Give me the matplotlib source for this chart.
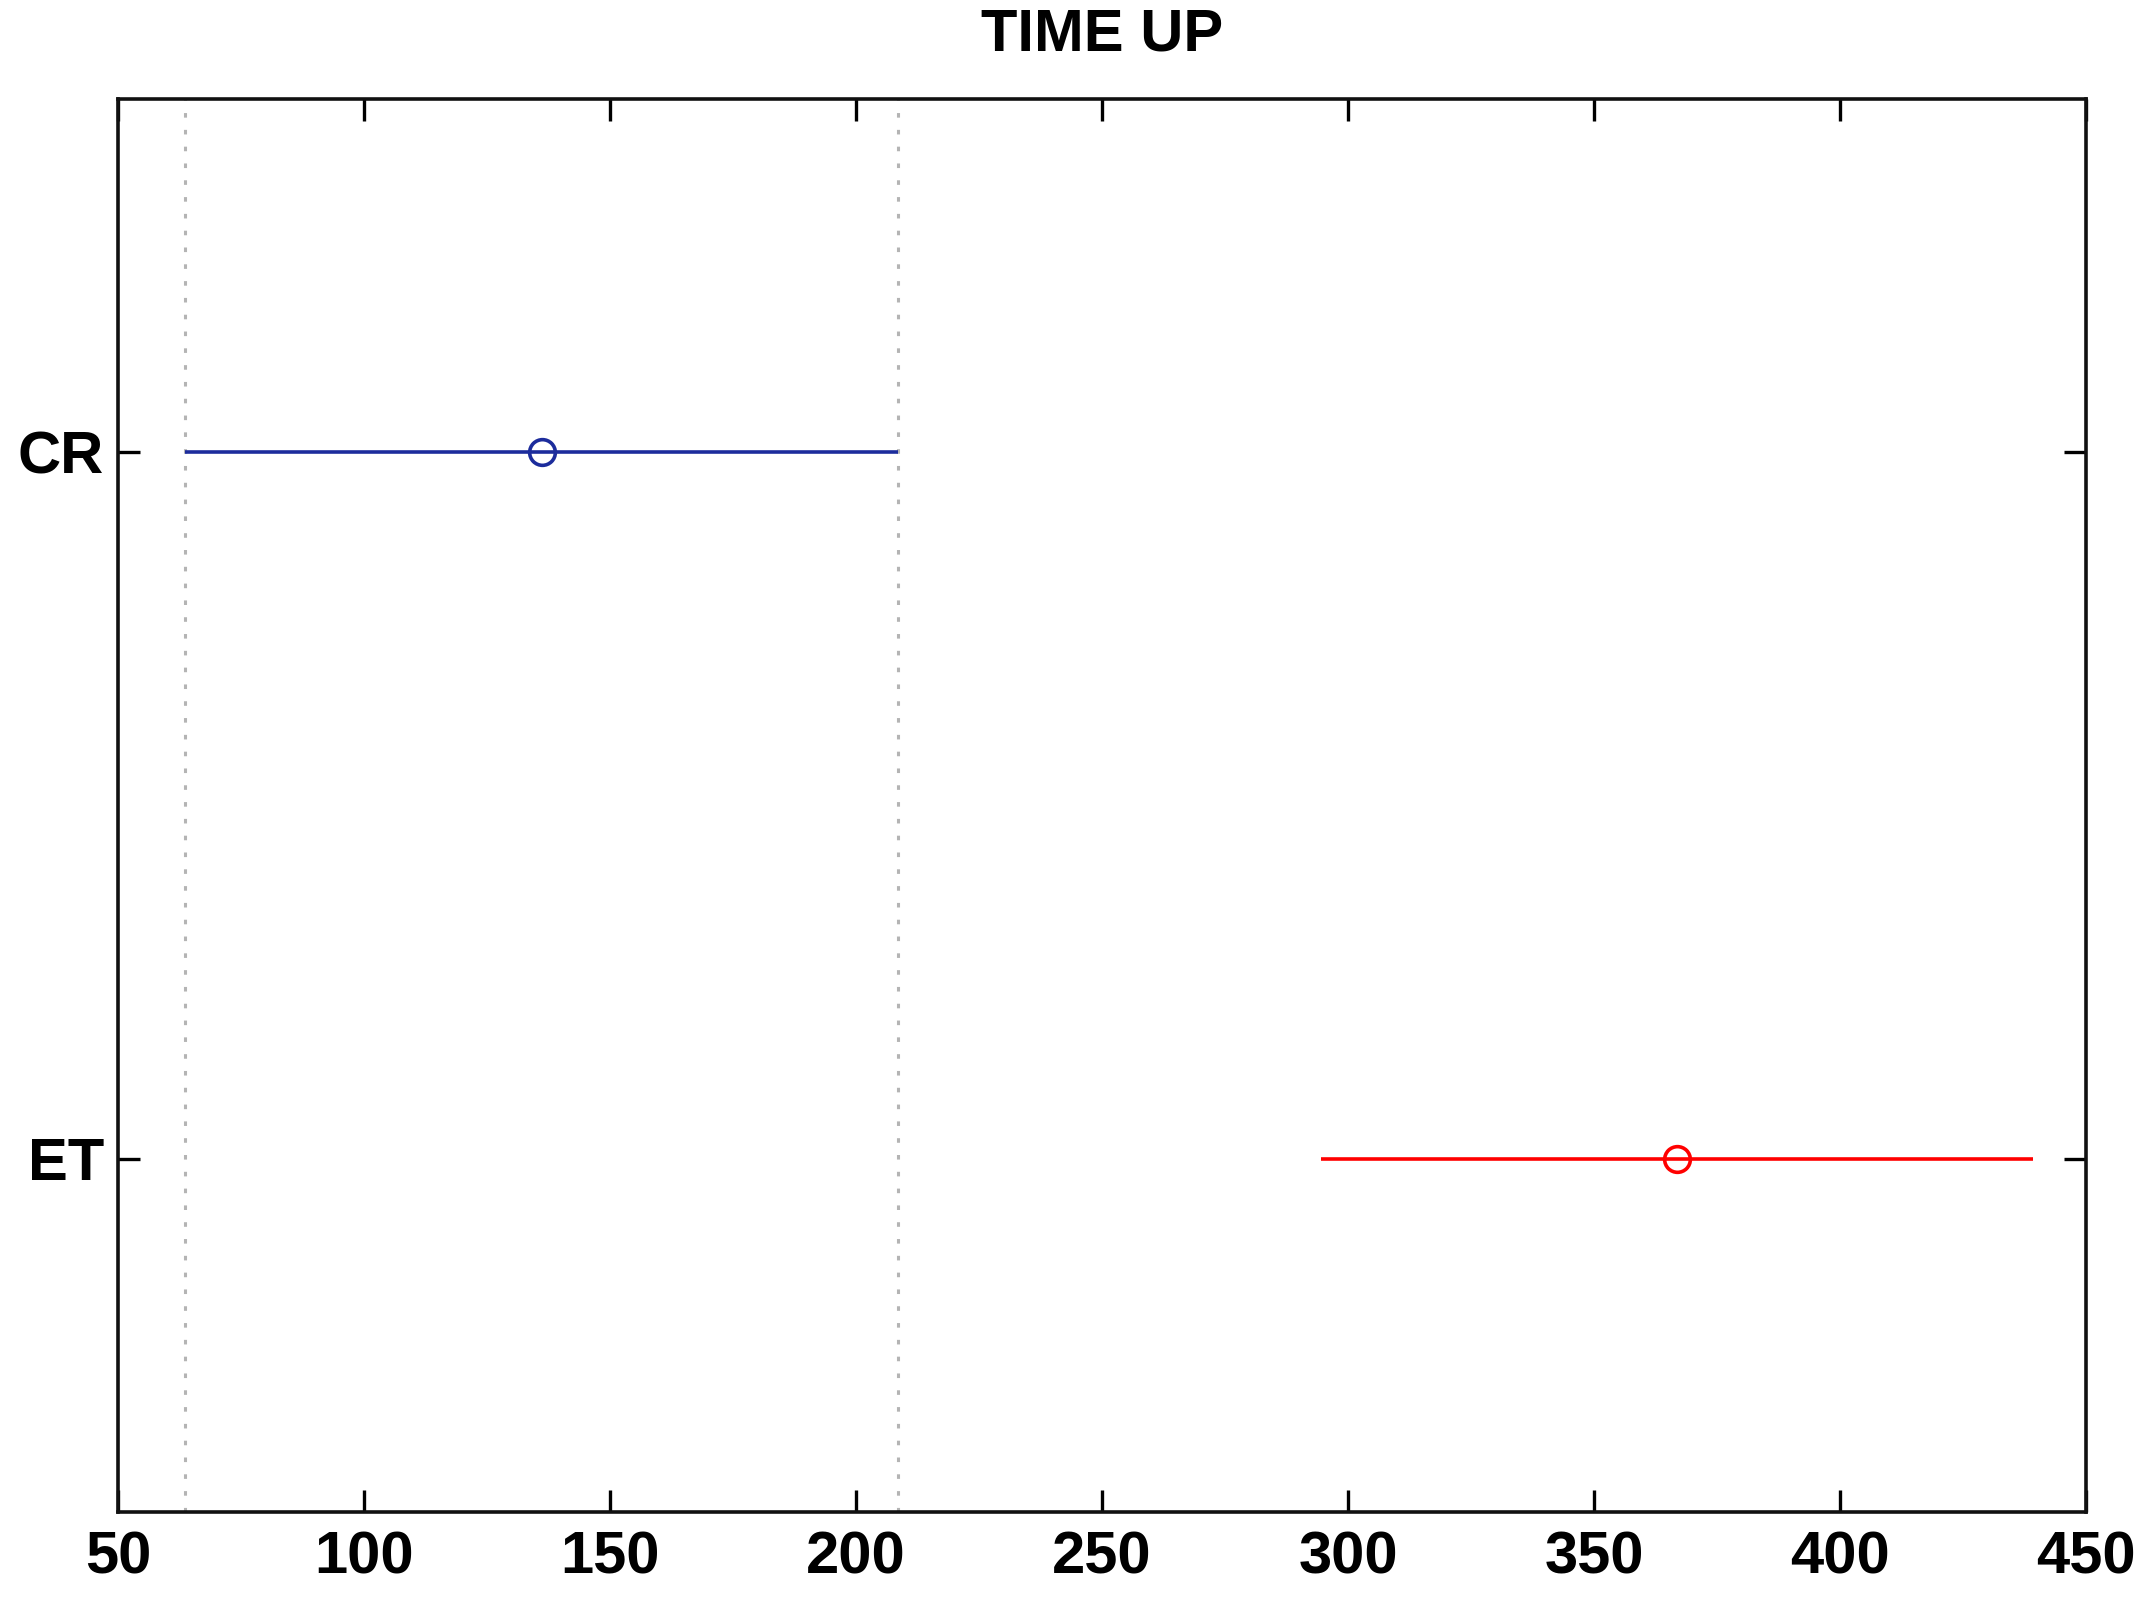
import matplotlib
matplotlib.use("Agg")
import matplotlib.pyplot as plt

# Data (multiple-comparison style intervals)
groups = ["ET", "CR"]
means = [366.9, 136.1]
lower = [294.6, 63.6]
upper = [439.3, 208.5]
colors = ["#ff0000", "#1c2c9c"]
xticks = [50, 100, 150, 200, 250, 300, 350, 400, 450]
title = "TIME UP"

plt.rcParams["font.family"] = ["Liberation Sans", "DejaVu Sans"]
plt.rcParams["font.weight"] = "bold"

fig = plt.figure(figsize=(21.5, 16.04), dpi=100)
ax = fig.add_axes([118 / 2150, 1 - 1512 / 1604, (2086 - 118) / 2150, (1512 - 99) / 1604])

ypos = list(range(1, len(groups) + 1))

# dotted reference lines at the CR interval ends
ax.axvline(lower[1], color="#b4b4b4", linestyle=(0, (1.5, 4)), linewidth=2.2)
ax.axvline(upper[1], color="#b4b4b4", linestyle=(0, (1.5, 4)), linewidth=2.2)

for y, m, lo, hi, c in zip(ypos, means, lower, upper, colors):
    ax.plot([lo, hi], [y, y], color=c, linewidth=2.6, solid_capstyle="butt")
    ax.plot([m], [y], marker="o", markersize=18.5, markerfacecolor="none",
            markeredgecolor=c, markeredgewidth=2.6, linestyle="none")

ax.set_xlim(50, 450)
ax.set_ylim(0.5, 2.5)
ax.set_xticks(xticks)
ax.set_xticklabels([str(t) for t in xticks], fontsize=43, fontweight="bold")
ax.set_yticks(ypos)
ax.set_yticklabels(groups, fontsize=43, fontweight="bold")

ax.tick_params(axis="both", direction="in", length=16, width=2.4,
               top=True, right=True, colors="black")
ax.tick_params(axis="x", pad=13)
ax.tick_params(axis="y", pad=10)
for s in ax.spines.values():
    s.set_linewidth(2.6)
    s.set_color("#111111")

ax.set_title(title, fontsize=43, fontweight="bold", pad=35)

fig.savefig("out.png", dpi=100, facecolor="white")
